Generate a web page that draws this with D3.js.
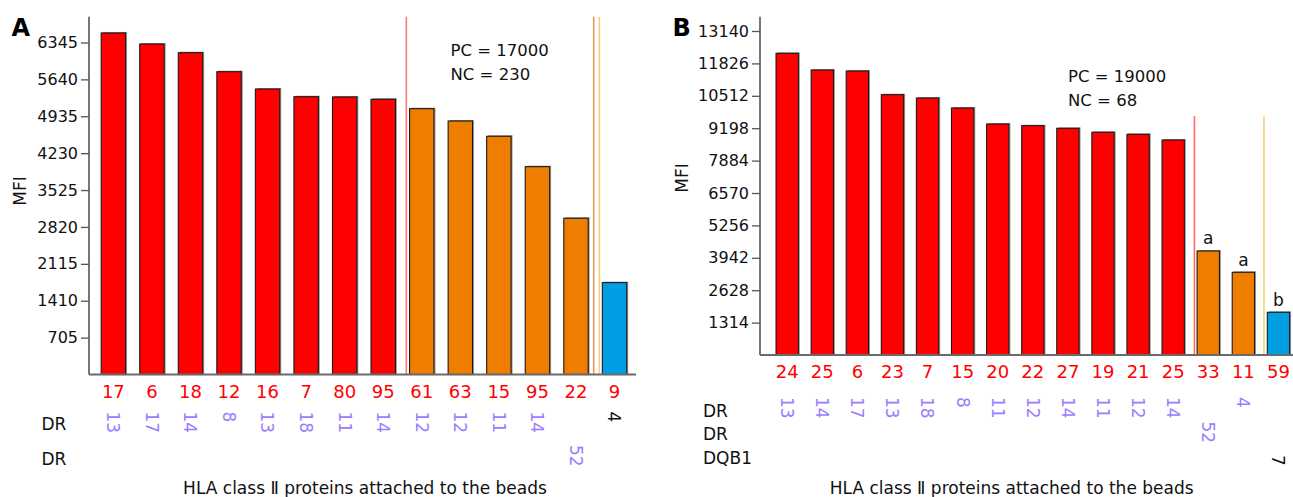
<!DOCTYPE html>
<html><head><meta charset="utf-8">
<script src="https://cdn.jsdelivr.net/npm/d3@7"></script>
<style>
html,body{margin:0;padding:0;background:#fff;}
text{font-family:"DejaVu Sans",Verdana,sans-serif;}
</style></head>
<body><svg id="c" width="1293" height="497"></svg>
<script>
// ---------- Panel A data ----------
const catsA   = ["17","6","18","12","16","7","80","95","61","63","15","95","22","9"];
const valuesA = [6527,6316,6150,5787,5456,5309,5304,5260,5080,4845,4553,3972,2986,1756];
const groupA  = ["r","r","r","r","r","r","r","r","o","o","o","o","o","b"];
const dr1A    = ["13","17","14","8","13","18","11","14","12","12","11","14","","4"];
const dr1ColA = ["p","p","p","p","p","p","p","p","p","p","p","p","p","k"];
const dr2A    = ["","","","","","","","","","","","","52",""];
const ticksA  = [705,1410,2115,2820,3525,4230,4935,5640,6345];
const rowNamesA = ["DR","DR"];
// ---------- Panel B data ----------
const catsB   = ["24","25","6","23","7","15","20","22","27","19","21","25","33","11","59"];
const valuesB = [12235,11558,11518,10557,10423,10017,9368,9300,9194,9032,8950,8719,4218,3354,1732];
const groupB  = ["r","r","r","r","r","r","r","r","r","r","r","r","o","o","b"];
const dr1B    = ["13","14","17","13","18","8","11","12","14","11","12","14","","4",""];
const dr2B    = ["","","","","","","","","","","","","52","",""];
const dqb1B   = ["","","","","","","","","","","","","","","7"];
const annotB  = ["","","","","","","","","","","","","a","a","b"];
const ticksB  = [1314,2628,3942,5256,6570,7884,9198,10512,11826,13140];
const rowNamesB = ["DR","DR","DQB1"];
const xTitle = "HLA class Ⅱ proteins attached to the beads";

const colors = {r:"#ff0000", o:"#ef7d00", b:"#009fe3", p:"#9a7cff", k:"#111"};

const svg = d3.select("#c");
svg.append("rect").attr("width",1293).attr("height",497).attr("fill","#fff");

function panel(cfg){
  const g = svg.append("g");
  const n = cfg.values.length;
  const x = d3.scaleBand().domain(d3.range(n)).range(cfg.xr).paddingInner(cfg.pad).paddingOuter(cfg.pad/2);
  const y = d3.scaleLinear().domain([0,cfg.ymax]).range([cfg.y0, cfg.ytop]);
  const bw = x.bandwidth(), gap = x.step()-bw;

  // separators
  cfg.seps.forEach(s=>{
    const xx = x(s.before) - gap*s.frac;
    g.append("line").attr("x1",xx).attr("x2",xx)
      .attr("y1", s.from!=null ? y(s.from) : cfg.ytop).attr("y2",cfg.y0)
      .attr("stroke",s.color).attr("stroke-width",1.6);
  });

  // bars (with faint shadow)
  g.selectAll("rect.sh").data(cfg.values).enter().append("rect")
    .attr("x",(d,i)=>x(i)+1.5).attr("width",bw)
    .attr("y",d=>y(d)-1).attr("height",d=>cfg.y0-y(d)+1)
    .attr("fill","#9a9a9a");
  g.selectAll("rect.bar").data(cfg.values).enter().append("rect")
    .attr("x",(d,i)=>x(i)).attr("width",bw)
    .attr("y",d=>y(d)).attr("height",d=>cfg.y0-y(d))
    .attr("fill",(d,i)=>colors[cfg.group[i]])
    .attr("stroke","#1a1a1a").attr("stroke-width",1.1);

  // y axis
  const ax = g.append("g").attr("transform",`translate(${cfg.ax},0)`)
    .call(d3.axisLeft(y).tickValues(cfg.ticks).tickSize(8).tickSizeOuter(0).tickPadding(3).tickFormat(d=>String(d)));
  ax.select(".domain").remove();
  ax.selectAll(".tick line").attr("stroke","#555").attr("stroke-width",1.3);
  ax.selectAll(".tick text").attr("font-size",16).attr("fill","#111").attr("font-family","DejaVu Sans");
  g.append("line").attr("x1",cfg.ax).attr("x2",cfg.ax).attr("y1",cfg.ytop).attr("y2",cfg.y0)
    .attr("stroke","#555").attr("stroke-width",1.6);
  g.append("line").attr("x1",cfg.ax).attr("x2",cfg.xend).attr("y1",cfg.y0).attr("y2",cfg.y0)
    .attr("stroke","#6a6a6a").attr("stroke-width",2.2);

  // category labels (red)
  g.selectAll("text.cat").data(cfg.cats).enter().append("text")
    .attr("x",(d,i)=>x(i)+bw/2).attr("y",cfg.catY).attr("dy","0.36em")
    .attr("text-anchor","middle").attr("font-size",18).attr("fill","#ff0000").text(d=>d);

  // rotated rows
  cfg.rows.forEach(r=>{
    r.labels.forEach((t,i)=>{
      if(!t) return;
      const cx = x(i)+bw/2;
      g.append("text").attr("transform",`translate(${cx},${r.y}) rotate(90)`)
        .attr("dy","0.36em").attr("font-size",17)
        .attr("fill", colors[r.col ? r.col[i] : r.c]).text(t);
    });
  });
  cfg.rowNames.forEach((t,k)=>{
    g.append("text").attr("x",cfg.rowX).attr("y",cfg.rowNameY[k]).attr("dy","0.36em")
      .attr("font-size",17).attr("fill","#111").text(t);
  });

  // annotations
  if(cfg.annot){
    g.selectAll("text.an").data(cfg.annot).enter().append("text")
      .attr("x",(d,i)=>x(i)+bw/2).attr("y",(d,i)=>y(cfg.values[i])-6.5)
      .attr("text-anchor","middle").attr("font-size",17).attr("fill","#111").text(d=>d);
  }

  // MFI
  g.append("text").attr("transform",`translate(${cfg.mfi[0]},${cfg.mfi[1]}) rotate(-90)`)
    .attr("dy","0.36em").attr("text-anchor","middle").attr("font-size",17).attr("fill","#111").text("MFI");
  // panel letter
  g.append("text").attr("x",cfg.letterPos[0]).attr("y",cfg.letterPos[1])
    .attr("font-size",24).attr("font-weight","bold").attr("fill","#000").text(cfg.letter);
  // PC / NC
  g.append("text").attr("x",cfg.pc[0]).attr("y",cfg.pc[1]).attr("font-size",16.5).attr("fill","#111").text(cfg.pcText);
  g.append("text").attr("x",cfg.pc[0]).attr("y",cfg.pc[1]+cfg.pc[2]).attr("font-size",16.5).attr("fill","#111").text(cfg.ncText);
  // title
  g.append("text").attr("x",cfg.title[0]).attr("y",cfg.title[1]).attr("text-anchor","middle")
    .attr("font-size",17).attr("fill","#111").text(xTitle);
}

panel({
  values:valuesA, cats:catsA, group:groupA, ticks:ticksA, ymax:6838,
  xr:[94.1,633.8], pad:0.367, y0:374.5, ytop:16.7, ax:89, xend:636,
  seps:[{before:8,frac:0.23,color:"#ff7a7a"},{before:13,frac:0.61,color:"#e89a55"},{before:13,frac:0.21,color:"#f3cf7a"}],
  catY:391.5,
  rows:[{labels:dr1A,y:411.5,col:dr1ColA},{labels:dr2A,y:445,c:"p"}],
  rowNames:rowNamesA, rowX:41.5, rowNameY:[423.5,458.5],
  mfi:[20,191], letter:"A", letterPos:[11.5,35.5],
  pc:[450.5,56,24], pcText:"PC = 17000", ncText:"NC = 230",
  title:[365,494]
});
panel({
  values:valuesB, cats:catsB, group:groupB, ticks:ticksB, ymax:13720,
  xr:[769.65,1296], pad:0.364, y0:355, ytop:16.7, ax:760, xend:1293,
  seps:[{before:12,frac:0.21,color:"#ff6a6a",from:9693},{before:14,frac:0.26,color:"#f5d470",from:9693}],
  catY:371.5, annot:annotB,
  rows:[{labels:dr1B,y:397,c:"p"},{labels:dr2B,y:421.5,c:"p"},{labels:dqb1B,y:455,c:"k"}],
  rowNames:rowNamesB, rowX:703, rowNameY:[410.7,434.3,458.3],
  mfi:[681.7,178], letter:"B", letterPos:[672.5,35.5],
  pc:[1068,81.7,24.3], pcText:"PC = 19000", ncText:"NC = 68",
  title:[1011.7,494]
});
</script></body></html>
